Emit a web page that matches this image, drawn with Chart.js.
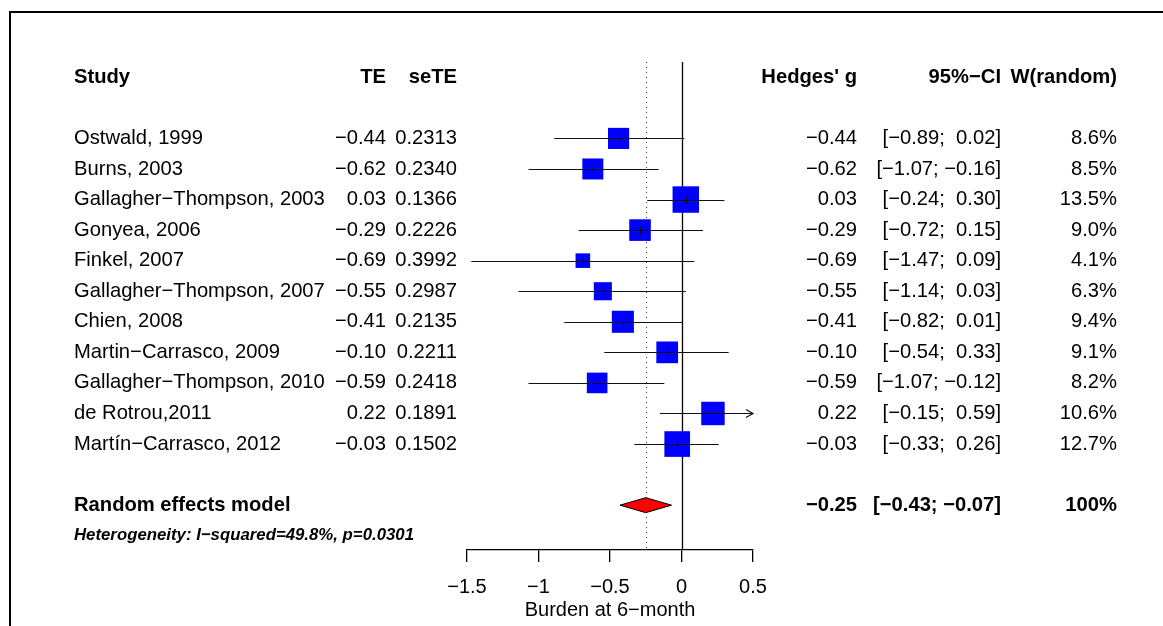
<!DOCTYPE html>
<html>
<head>
<meta charset="utf-8">
<script src="https://cdn.jsdelivr.net/npm/chart.js@4.4.1/dist/chart.umd.min.js"></script>
<style>
  html, body { margin: 0; padding: 0; background: #fff; }
  canvas { display: block; }
</style>
</head>
<body>
<canvas id="chart-forest" width="1163" height="626"></canvas>
<script>
// study data
const studies = [
  'Ostwald, 1999', 'Burns, 2003', 'Gallagher−Thompson, 2003', 'Gonyea, 2006',
  'Finkel, 2007', 'Gallagher−Thompson, 2007', 'Chien, 2008', 'Martin−Carrasco, 2009',
  'Gallagher−Thompson, 2010', 'de Rotrou,2011', 'Martín−Carrasco, 2012'
];
const te = [-0.44, -0.62, 0.03, -0.29, -0.69, -0.55, -0.41, -0.10, -0.59, 0.22, -0.03];
const seTE = [0.2313, 0.2340, 0.1366, 0.2226, 0.3992, 0.2987, 0.2135, 0.2211, 0.2418, 0.1891, 0.1502];
const ciLow = [-0.89, -1.07, -0.24, -0.72, -1.47, -1.14, -0.82, -0.54, -1.07, -0.15, -0.33];
const ciHigh = [0.02, -0.16, 0.30, 0.15, 0.09, 0.03, 0.01, 0.33, -0.12, 0.59, 0.26];
const weights = [8.6, 8.5, 13.5, 9.0, 4.1, 6.3, 9.4, 9.1, 8.2, 10.6, 12.7];
const pooled = [-0.25, -0.43, -0.07];
const pooledWeight = '100%';
const pooledLabel = 'Random effects model';
const heterogeneity = 'Heterogeneity: I−squared=49.8%, p=0.0301';
const headers = ['Study', 'TE', 'seTE', "Hedges' g", '95%−CI', 'W(random)'];
const xTicks = [-1.5, -1, -0.5, 0, 0.5];
const xTitle = 'Burden at 6−month';

const FONT = '"Liberation Sans", Arial, Helvetica, sans-serif';
const HEADER_ROW = -2;
const POOLED_ROW = 12;
const HET_ROW = 13;
// text columns (left edge of names, right edges of the rest)
const colName = 74, colTE = 386, colSe = 457, colG = 857, colCI = 1001, colW = 1117;

const minus = s => s.replace(/-/g, '−');
const fmt = (v, d) => minus(v.toFixed(d));
const padded = v => (v < 0 ? '' : ' ') + fmt(v, 2);
const ciText = (lo, hi) => `[${padded(lo)}; ${padded(hi)}]`;
const squareSide = w => 7.2 * Math.sqrt(w);

Chart.defaults.font.family = FONT;
Chart.defaults.color = '#000';

const frame = {
  id: 'frame',
  beforeDraw(chart) {
    const { ctx } = chart;
    ctx.save();
    ctx.fillStyle = '#fff';
    ctx.fillRect(0, 0, chart.width, chart.height);
    ctx.strokeStyle = '#000';
    ctx.lineWidth = 2;
    ctx.beginPath();
    ctx.moveTo(10, chart.height);
    ctx.lineTo(10, 12);
    ctx.lineTo(chart.width, 12);
    ctx.stroke();
    ctx.restore();
  }
};

const refLines = {
  id: 'refLines',
  beforeDatasetsDraw(chart) {
    const { ctx, chartArea, scales: { x } } = chart;
    ctx.save();
    // pooled estimate, dotted
    const px = Math.round(x.getPixelForValue(pooled[0])) + 0.5;
    ctx.strokeStyle = '#444';
    ctx.lineWidth = 1;
    ctx.setLineDash([1, 4]);
    ctx.beginPath();
    ctx.moveTo(px, chartArea.top);
    ctx.lineTo(px, chartArea.bottom);
    ctx.stroke();
    // line of no effect
    ctx.setLineDash([]);
    const zx = Math.round(x.getPixelForValue(0)) + 0.5;
    ctx.strokeStyle = '#000';
    ctx.lineWidth = 1.3;
    ctx.beginPath();
    ctx.moveTo(zx, chartArea.top);
    ctx.lineTo(zx, chartArea.bottom);
    ctx.stroke();
    ctx.restore();
  }
};

const forest = {
  id: 'forest',
  afterDatasetsDraw(chart) {
    const { ctx, scales: { x, y } } = chart;
    const xmin = x.min, xmax = x.max;
    ctx.save();
    ctx.strokeStyle = '#111';
    ctx.lineWidth = 1.2;
    te.forEach((v, i) => {
      const py = Math.round(y.getPixelForValue(i)) + 0.5;
      const lo = Math.max(ciLow[i], xmin);
      const hi = Math.min(ciHigh[i], xmax);
      const x0 = x.getPixelForValue(lo);
      const x1 = x.getPixelForValue(hi);
      ctx.beginPath();
      ctx.moveTo(x0, py);
      ctx.lineTo(x1, py);
      ctx.stroke();
      if (ciHigh[i] > xmax) {
        ctx.beginPath();
        ctx.moveTo(x1 - 7, py - 4);
        ctx.lineTo(x1, py);
        ctx.lineTo(x1 - 7, py + 4);
        ctx.stroke();
      }
      if (ciLow[i] < xmin) {
        ctx.beginPath();
        ctx.moveTo(x0 + 7, py - 4);
        ctx.lineTo(x0, py);
        ctx.lineTo(x0 + 7, py + 4);
        ctx.stroke();
      }
      const cx = Math.round(x.getPixelForValue(v)) + 0.5;
      ctx.beginPath();
      ctx.moveTo(cx, py - 3.7);
      ctx.lineTo(cx, py + 3.7);
      ctx.stroke();
    });
    // pooled diamond
    const dy = y.getPixelForValue(POOLED_ROW);
    const dl = x.getPixelForValue(pooled[1]);
    const dc = x.getPixelForValue(pooled[0]);
    const dr = x.getPixelForValue(pooled[2]);
    ctx.beginPath();
    ctx.moveTo(dl, dy);
    ctx.lineTo(dc, dy - 7.5);
    ctx.lineTo(dr, dy);
    ctx.lineTo(dc, dy + 7.5);
    ctx.closePath();
    ctx.fillStyle = '#ff0000';
    ctx.fill();
    ctx.strokeStyle = '#000';
    ctx.lineWidth = 1;
    ctx.stroke();
    ctx.restore();
  }
};

const columns = {
  id: 'columns',
  afterDraw(chart) {
    const { ctx, scales: { y } } = chart;
    const put = (text, xPos, row, align, font) => {
      ctx.font = font;
      ctx.textAlign = align;
      ctx.fillText(text, xPos, y.getPixelForValue(row));
    };
    ctx.save();
    ctx.fillStyle = '#000';
    ctx.textBaseline = 'middle';
    const reg = `20.2px ${FONT}`;
    const bold = `bold 20.2px ${FONT}`;
    put(headers[0], colName, HEADER_ROW, 'left', bold);
    put(headers[1], colTE, HEADER_ROW, 'right', bold);
    put(headers[2], colSe, HEADER_ROW, 'right', bold);
    put(headers[3], colG, HEADER_ROW, 'right', bold);
    put(headers[4], colCI, HEADER_ROW, 'right', bold);
    put(headers[5], colW, HEADER_ROW, 'right', bold);
    studies.forEach((name, i) => {
      put(name, colName, i, 'left', reg);
      put(fmt(te[i], 2), colTE, i, 'right', reg);
      put(seTE[i].toFixed(4), colSe, i, 'right', reg);
      put(fmt(te[i], 2), colG, i, 'right', reg);
      put(ciText(ciLow[i], ciHigh[i]), colCI, i, 'right', reg);
      put(weights[i].toFixed(1) + '%', colW, i, 'right', reg);
    });
    put(pooledLabel, colName, POOLED_ROW, 'left', bold);
    put(fmt(pooled[0], 2), colG, POOLED_ROW, 'right', bold);
    put(ciText(pooled[1], pooled[2]), colCI, POOLED_ROW, 'right', bold);
    put(pooledWeight, colW, POOLED_ROW, 'right', bold);
    put(heterogeneity, colName, HET_ROW, 'left', `italic bold 16.8px ${FONT}`);
    ctx.restore();
  }
};

const forestChart = new Chart(document.getElementById('chart-forest'), {
  type: 'scatter',
  data: {
    datasets: [{
      data: te.map((v, i) => ({ x: v, y: i })),
      pointStyle: 'rect',
      backgroundColor: '#0000ff',
      borderWidth: 0,
      pointRadius: c => squareSide(weights[c.dataIndex]) / Math.SQRT2,
      pointHoverRadius: c => squareSide(weights[c.dataIndex]) / Math.SQRT2
    }]
  },
  options: {
    responsive: false,
    animation: false,
    events: [],
    layout: { padding: { left: 467, right: 410, top: 62, bottom: 0 } },
    plugins: { legend: { display: false }, tooltip: { enabled: false } },
    scales: {
      x: {
        type: 'linear',
        min: -1.5,
        max: 0.5,
        afterBuildTicks: axis => { axis.ticks = xTicks.map(v => ({ value: v })); },
        grid: { drawOnChartArea: false, drawTicks: true, tickLength: 12, color: '#000', lineWidth: 1.3 },
        border: { display: true, color: '#000', width: 1.3 },
        ticks: {
          padding: 13,
          maxRotation: 0,
          autoSkip: false,
          font: { size: 20 },
          color: '#000',
          callback: v => minus(String(Math.round(v * 10) / 10))
        },
        title: { display: true, text: xTitle, font: { size: 20 }, color: '#000', padding: { top: -14, bottom: 4 } }
      },
      y: {
        type: 'linear',
        reverse: true,
        min: -2.5,
        max: 13.467,
        display: false
      }
    }
  },
  plugins: [frame, refLines, forest, columns]
});
</script>
</body>
</html>
